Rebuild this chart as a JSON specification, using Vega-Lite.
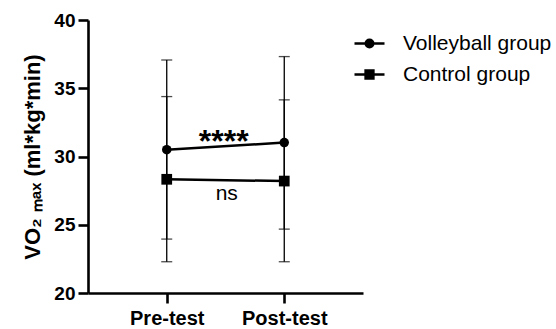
{
  "$schema": "https://vega.github.io/schema/vega-lite/v6.json",
  "width": 275,
  "height": 273,
  "autosize": {"type": "none"},
  "padding": {"left": 88, "top": 20, "right": 193, "bottom": 36},
  "background": "white",
  "config": {
    "view": {"stroke": null},
    "font": "Liberation Sans",
    "axis": {"domainColor": "black", "domainWidth": 2.6, "tickColor": "black", "tickWidth": 2.6, "tickSize": 10, "labelColor": "black", "titleColor": "black", "grid": false, "labelFont": "Liberation Sans", "labelFontWeight": "bold", "titleFont": "Liberation Sans"}
  },
  "data": {"values": [
    {"test": "Pre-test", "group": "Volleyball group", "mean": 30.5, "lo": 23.95, "hi": 37.07},
    {"test": "Post-test", "group": "Volleyball group", "mean": 31.02, "lo": 24.68, "hi": 37.32},
    {"test": "Pre-test", "group": "Control group", "mean": 28.33, "lo": 22.29, "hi": 34.39},
    {"test": "Post-test", "group": "Control group", "mean": 28.2, "lo": 22.29, "hi": 34.15}
  ]},
  "encoding": {
    "x": {"field": "test", "type": "nominal", "sort": ["Pre-test", "Post-test"],
      "scale": {"type": "point", "padding": 0.67},
      "axis": {"title": null, "labelAngle": 0, "labelFontSize": 20, "labelPadding": 5}}
  },
  "layer": [
    {
      "mark": {"type": "rule", "color": "black", "strokeWidth": 1.3},
      "encoding": {
        "y": {"field": "lo", "type": "quantitative", "scale": {"domain": [20, 40]},
          "axis": {"values": [20, 25, 30, 35, 40], "labelFontSize": 19, "labelPadding": 3, "title": "VO₂ ₘₐₓ (ml*kg*min)", "titleFontSize": 22, "titleFontWeight": "bold", "titlePadding": 9}},
        "y2": {"field": "hi"}
      }
    },
    {
      "mark": {"type": "tick", "color": "black", "thickness": 1.3, "size": 11, "orient": "horizontal"},
      "encoding": {"y": {"field": "lo", "type": "quantitative"}}
    },
    {
      "mark": {"type": "tick", "color": "black", "thickness": 1.3, "size": 11, "orient": "horizontal"},
      "encoding": {"y": {"field": "hi", "type": "quantitative"}}
    },
    {
      "mark": {"type": "line", "color": "black", "strokeWidth": 2.5},
      "encoding": {
        "y": {"field": "mean", "type": "quantitative"},
        "detail": {"field": "group"}
      }
    },
    {
      "mark": {"type": "point", "filled": true, "color": "black", "strokeWidth": 2.5, "opacity": 0, "size": 100},
      "encoding": {
        "y": {"field": "mean", "type": "quantitative"},
        "stroke": {"field": "group", "type": "nominal",
          "scale": {"domain": ["Volleyball group", "Control group"], "range": ["black", "black"]},
          "legend": {"title": null, "orient": "none", "legendX": 265, "legendY": 7, "padding": 0,
            "symbolSize": 900, "symbolOpacity": 1, "symbolStrokeWidth": 2.5, "symbolFillColor": "black",
            "rowPadding": 4, "labelFontSize": 21, "labelFont": "Liberation Sans", "labelFontWeight": "normal", "labelColor": "black", "labelOffset": 17}},
        "shape": {"field": "group", "type": "nominal",
          "scale": {"domain": ["Volleyball group", "Control group"], "range": ["M-1,0H1M-0.25,0A0.25,0.25,0,1,1,0.25,0A0.25,0.25,0,1,1,-0.25,0Z", "M-1,0H1M-0.26,-0.26H0.26V0.26H-0.26Z"]},
          "legend": {"title": null, "orient": "none", "legendX": 265, "legendY": 7, "padding": 0,
            "symbolSize": 900, "symbolOpacity": 1, "symbolStrokeWidth": 2.5, "symbolFillColor": "black",
            "rowPadding": 4, "labelFontSize": 21, "labelFont": "Liberation Sans", "labelFontWeight": "normal", "labelColor": "black", "labelOffset": 17}
        }
      }
    },
    {
      "transform": [{"filter": "datum.group === 'Volleyball group'"}],
      "mark": {"type": "point", "shape": "circle", "filled": true, "color": "black", "opacity": 1, "size": 90},
      "encoding": {"y": {"field": "mean", "type": "quantitative"}}
    },
    {
      "transform": [{"filter": "datum.group === 'Control group'"}],
      "mark": {"type": "point", "shape": "square", "filled": true, "color": "black", "opacity": 1, "size": 115},
      "encoding": {"y": {"field": "mean", "type": "quantitative"}}
    },
    {
      "data": {"values": [{"test": "Pre-test", "label": "****", "ypos": 30.35}]},
      "mark": {"type": "text", "color": "black", "dx": 57, "baseline": "alphabetic", "align": "center", "fontSize": 32, "fontWeight": "bold"},
      "encoding": {
        "y": {"field": "ypos", "type": "quantitative"},
        "text": {"field": "label"}
      }
    },
    {
      "data": {"values": [{"test": "Pre-test", "label": "ns", "ypos": 26.8}]},
      "mark": {"type": "text", "color": "black", "dx": 60, "baseline": "alphabetic", "align": "center", "fontSize": 21},
      "encoding": {
        "y": {"field": "ypos", "type": "quantitative"},
        "text": {"field": "label"}
      }
    }
  ]
}
